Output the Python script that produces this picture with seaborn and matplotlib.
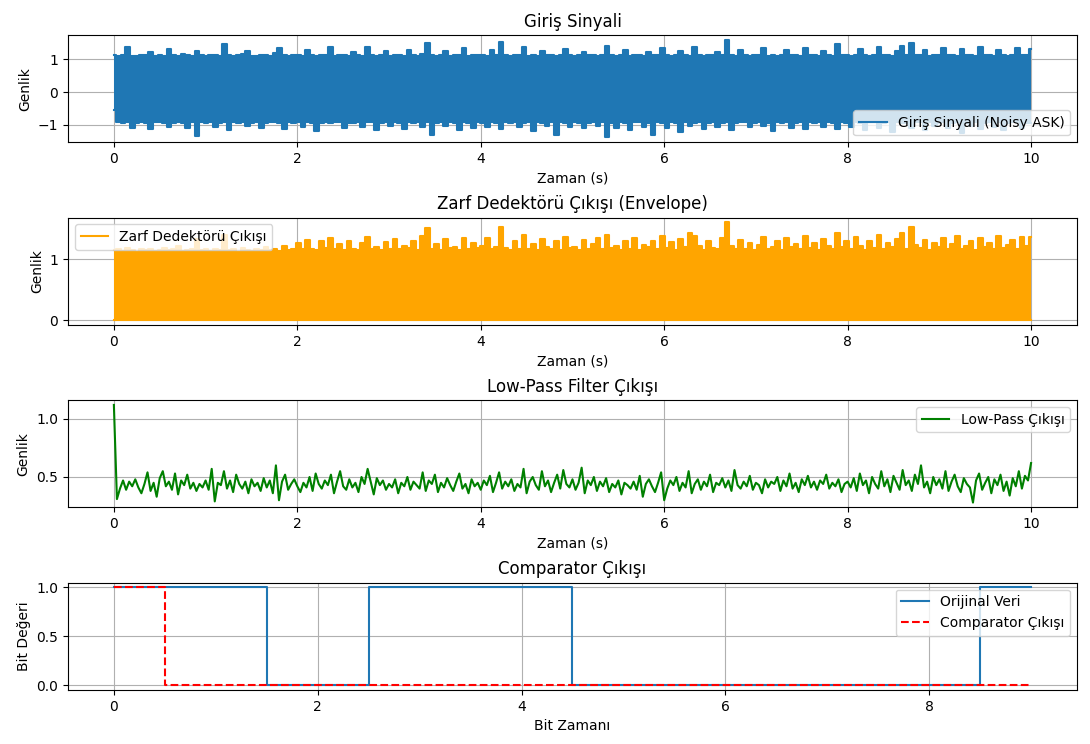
import numpy as np
import matplotlib
matplotlib.use("Agg")
import matplotlib.pyplot as plt
import seaborn as sns

# === Values ===
# noisy ASK input: upper / lower edge of the band (200 samples over 0..10 s)
sig_top = [
    1.13, 1.10, 1.12, 1.38, 1.11, 1.09, 1.14, 1.12, 1.22, 1.10, 1.13, 1.11, 1.30, 1.12, 1.09, 1.15, 1.12, 1.11, 1.26, 1.13,
    1.10, 1.14, 1.12, 1.11, 1.45, 1.13, 1.10, 1.12, 1.15, 1.24, 1.11, 1.09, 1.13, 1.12, 1.10, 1.20, 1.35, 1.12, 1.11, 1.14,
    1.12, 1.10, 1.27, 1.13, 1.11, 1.14, 1.12, 1.38, 1.10, 1.13, 1.12, 1.09, 1.22, 1.14, 1.11, 1.36, 1.12, 1.10, 1.13, 1.25,
    1.11, 1.14, 1.12, 1.10, 1.29, 1.13, 1.11, 1.15, 1.50, 1.12, 1.10, 1.13, 1.24, 1.11, 1.14, 1.12, 1.33, 1.10, 1.13, 1.12,
    1.14, 1.11, 1.27, 1.12, 1.53, 1.13, 1.10, 1.14, 1.12, 1.36, 1.11, 1.13, 1.10, 1.25, 1.12, 1.14, 1.11, 1.13, 1.32, 1.12,
    1.10, 1.13, 1.21, 1.12, 1.14, 1.11, 1.13, 1.40, 1.12, 1.10, 1.14, 1.28, 1.11, 1.13, 1.12, 1.10, 1.23, 1.14, 1.12, 1.34,
    1.13, 1.11, 1.14, 1.26, 1.12, 1.10, 1.37, 1.13, 1.11, 1.14, 1.12, 1.22, 1.13, 1.59, 1.12, 1.10, 1.29, 1.13, 1.11, 1.14,
    1.12, 1.33, 1.11, 1.13, 1.10, 1.14, 1.27, 1.12, 1.13, 1.11, 1.35, 1.12, 1.14, 1.10, 1.24, 1.13, 1.11, 1.45, 1.12, 1.14,
    1.11, 1.13, 1.31, 1.12, 1.10, 1.14, 1.38, 1.12, 1.13, 1.11, 1.26, 1.40, 1.13, 1.50, 1.12, 1.14, 1.28, 1.11, 1.13, 1.12,
    1.33, 1.12, 1.14, 1.11, 1.30, 1.13, 1.12, 1.10, 1.36, 1.14, 1.12, 1.11, 1.27, 1.13, 1.10, 1.14, 1.34, 1.12, 1.13, 1.30,
]
sig_bot = [
    -0.55, -0.92, -0.95, -0.90, -1.08, -0.93, -0.91, -0.94, -1.12, -0.92, -0.90, -0.95, -1.05, -0.93, -0.91, -0.94, -1.10, -0.92, -1.33, -0.90,
    -0.94, -0.91, -1.06, -0.93, -0.92, -1.15, -0.90, -0.95, -0.92, -1.04, -0.93, -0.91, -1.09, -0.94, -0.92, -0.90, -0.95, -1.13, -0.91, -0.93,
    -0.92, -1.05, -0.90, -0.94, -1.18, -0.93, -0.91, -0.95, -0.92, -0.90, -1.10, -0.93, -0.94, -0.91, -1.07, -0.92, -0.90, -1.14, -0.94, -0.92,
    -1.02, -0.91, -0.93, -1.11, -0.90, -0.94, -0.92, -1.06, -0.91, -1.30, -0.93, -0.90, -1.04, -0.92, -0.94, -1.16, -0.91, -0.93, -1.08, -0.92,
    -0.93, -1.05, -0.90, -0.94, -1.12, -0.91, -0.93, -0.90, -1.07, -0.94, -0.92, -1.17, -0.91, -0.93, -1.03, -0.92, -1.30, -0.90, -0.94, -1.06,
    -0.91, -0.93, -1.10, -0.94, -0.90, -1.04, -0.92, -1.38, -0.93, -1.08, -0.90, -0.94, -1.14, -0.92, -0.91, -1.06, -0.93, -1.30, -0.91, -0.94,
    -1.09, -0.92, -0.94, -1.20, -0.91, -1.02, -0.93, -0.90, -1.11, -0.94, -0.92, -1.05, -0.93, -0.90, -1.15, -0.94, -0.92, -0.91, -1.07, -0.93,
    -0.91, -1.04, -0.93, -1.19, -0.92, -0.94, -0.90, -1.09, -0.93, -0.92, -1.13, -0.91, -0.94, -0.92, -1.06, -0.90, -0.93, -1.11, -0.92, -0.94,
    -1.05, -0.91, -0.93, -1.16, -0.92, -0.90, -1.08, -0.94, -0.92, -1.21, -0.91, -0.93, -0.94, -1.10, -0.92, -0.91, -1.14, -0.90, -1.04, -0.93,
    -0.92, -1.09, -0.94, -0.91, -1.24, -0.93, -1.03, -0.91, -1.12, -0.94, -0.92, -1.07, -0.90, -1.15, -0.93, -0.92, -0.91, -1.10, -0.94, -0.93,
]
# envelope detector output: top edge of the band (bottom sits on 0)
env_top = [
    1.14, 1.16, 1.13, 1.18, 1.15, 1.12, 1.16, 1.14, 1.17, 1.13, 1.15, 1.18, 1.14, 1.16, 1.22, 1.13, 1.15, 1.17, 1.33, 1.14,
    1.16, 1.13, 1.17, 1.15, 1.40, 1.14, 1.16, 1.12, 1.18, 1.15, 1.13, 1.17, 1.14, 1.20, 1.15, 1.16, 1.13, 1.21, 1.14, 1.17,
    1.26, 1.16, 1.31, 1.17, 1.15, 1.29, 1.18, 1.34, 1.16, 1.24, 1.14, 1.30, 1.17, 1.15, 1.27, 1.36, 1.16, 1.19, 1.14, 1.28,
    1.17, 1.32, 1.16, 1.21, 1.18, 1.30, 1.15, 1.37, 1.50, 1.16, 1.24, 1.15, 1.33, 1.18, 1.20, 1.14, 1.35, 1.16, 1.27, 1.18,
    1.21, 1.34, 1.16, 1.19, 1.53, 1.18, 1.15, 1.30, 1.17, 1.39, 1.16, 1.24, 1.14, 1.33, 1.19, 1.16, 1.29, 1.15, 1.36, 1.18,
    1.20, 1.15, 1.31, 1.17, 1.25, 1.35, 1.16, 1.40, 1.18, 1.22, 1.14, 1.30, 1.17, 1.34, 1.15, 1.23, 1.19, 1.29, 1.16, 1.37,
    1.18, 1.28, 1.15, 1.33, 1.19, 1.42, 1.38, 1.22, 1.15, 1.30, 1.18, 1.16, 1.35, 1.60, 1.21, 1.16, 1.31, 1.17, 1.26, 1.15,
    1.23, 1.36, 1.16, 1.20, 1.30, 1.15, 1.34, 1.19, 1.24, 1.16, 1.37, 1.18, 1.27, 1.14, 1.32, 1.21, 1.17, 1.42, 1.19, 1.29,
    1.16, 1.36, 1.22, 1.15, 1.30, 1.18, 1.39, 1.17, 1.26, 1.20, 1.33, 1.42, 1.16, 1.52, 1.23, 1.18, 1.31, 1.15, 1.27, 1.19,
    1.35, 1.16, 1.25, 1.38, 1.17, 1.22, 1.30, 1.15, 1.34, 1.20, 1.26, 1.16, 1.37, 1.18, 1.23, 1.31, 1.17, 1.36, 1.21, 1.36,
]
env_bot = [0.0] * len(env_top)

# low-pass filter output (301 samples over 0..10 s)
lowpass = [
    1.12, 0.31, 0.40, 0.47, 0.39, 0.46, 0.42, 0.48, 0.41, 0.36,
    0.44, 0.54, 0.38, 0.45, 0.33, 0.49, 0.55, 0.42, 0.46, 0.39,
    0.53, 0.35, 0.47, 0.43, 0.52, 0.40, 0.45, 0.38, 0.44, 0.41,
    0.47, 0.39, 0.57, 0.29, 0.45, 0.43, 0.55, 0.40, 0.47, 0.37,
    0.52, 0.44, 0.40, 0.46, 0.36, 0.48, 0.42, 0.45, 0.38, 0.49,
    0.41, 0.47, 0.36, 0.60, 0.30, 0.46, 0.52, 0.39, 0.44, 0.48,
    0.42, 0.37, 0.45, 0.41, 0.50, 0.38, 0.53, 0.44, 0.40, 0.47,
    0.43, 0.52, 0.36, 0.46, 0.55, 0.42, 0.39, 0.48, 0.41, 0.45,
    0.37, 0.50, 0.44, 0.57, 0.46, 0.35, 0.49, 0.43, 0.47, 0.39,
    0.44, 0.41, 0.48, 0.36, 0.45, 0.42, 0.50, 0.39, 0.46, 0.43,
    0.40, 0.54, 0.38, 0.47, 0.44, 0.52, 0.37, 0.45, 0.41, 0.49,
    0.43, 0.38, 0.46, 0.53, 0.40, 0.44, 0.36, 0.48, 0.42, 0.45,
    0.39, 0.47, 0.43, 0.51, 0.37, 0.45, 0.54, 0.40, 0.46, 0.42,
    0.48, 0.38, 0.44, 0.41, 0.57, 0.36, 0.46, 0.50, 0.43, 0.39,
    0.55, 0.42, 0.47, 0.37, 0.45, 0.52, 0.40, 0.56, 0.44, 0.41,
    0.48, 0.39, 0.45, 0.58, 0.36, 0.47, 0.43, 0.50, 0.38, 0.46,
    0.42, 0.49, 0.37, 0.44, 0.41, 0.47, 0.35, 0.45, 0.43, 0.40,
    0.46, 0.39, 0.51, 0.33, 0.44, 0.48, 0.42, 0.37, 0.45, 0.54,
    0.30, 0.40, 0.47, 0.43, 0.50, 0.38, 0.45, 0.41, 0.55, 0.36,
    0.44, 0.48, 0.39, 0.46, 0.42, 0.52, 0.37, 0.45, 0.43, 0.49,
    0.41, 0.47, 0.38, 0.56, 0.43, 0.40, 0.46, 0.42, 0.51, 0.39,
    0.45, 0.43, 0.36, 0.48, 0.41, 0.46, 0.44, 0.50, 0.38, 0.47,
    0.42, 0.53, 0.40, 0.45, 0.37, 0.48, 0.43, 0.51, 0.41, 0.46,
    0.39, 0.47, 0.44, 0.52, 0.40, 0.45, 0.42, 0.48, 0.37, 0.44,
    0.46, 0.41, 0.49, 0.38, 0.53, 0.43, 0.47, 0.36, 0.50, 0.44,
    0.40, 0.55, 0.42, 0.48, 0.37, 0.51, 0.45, 0.39, 0.56, 0.43,
    0.47, 0.38, 0.52, 0.44, 0.60, 0.41, 0.46, 0.36, 0.50, 0.43,
    0.48, 0.40, 0.55, 0.38, 0.46, 0.52, 0.42, 0.37, 0.49, 0.44,
    0.41, 0.28, 0.47, 0.53, 0.39, 0.45, 0.50, 0.36, 0.48, 0.43,
    0.52, 0.38, 0.46, 0.34, 0.49, 0.42, 0.55, 0.40, 0.51, 0.47,
    0.62,
]

# bits
bit_times = [0, 1, 2, 3, 4, 5, 6, 7, 8, 9]
orijinal_bits = [1, 1, 0, 1, 1, 0, 0, 0, 0, 1]
comparator_bits = [1, 0, 0, 0, 0, 0, 0, 0, 0, 0]

T_END = 10


def band_plot(ax, top, bot, color, label):
    # dense signal drawn as its upper/lower edge with the body filled in
    t = np.linspace(0, T_END, len(top))
    ax.fill_between(t, bot, top, step="mid", color=color, linewidth=0, zorder=2)
    sns.lineplot(x=t, y=top, ax=ax, color=color, label=label,
                 drawstyle="steps-mid", estimator=None)
    sns.lineplot(x=t, y=bot, ax=ax, color=color,
                 drawstyle="steps-mid", estimator=None)


fig, axs = plt.subplots(4, 1, figsize=(10.9, 7.44), dpi=100)
fig.subplots_adjust(left=0.0624, right=0.988, top=0.953, bottom=0.0726, hspace=0.70)

# 1 - input
band_plot(axs[0], sig_top, sig_bot, "#1f77b4", "Giriş Sinyali (Noisy ASK)")
axs[0].set_title("Giriş Sinyali")
axs[0].set_xlabel("Zaman (s)")
axs[0].set_ylabel("Genlik")
axs[0].legend(loc="lower right")

# 2 - envelope
band_plot(axs[1], env_top, env_bot, "orange", "Zarf Dedektörü Çıkışı")
axs[1].set_title("Zarf Dedektörü Çıkışı (Envelope)")
axs[1].set_xlabel("Zaman (s)")
axs[1].set_ylabel("Genlik")
axs[1].legend(loc="upper left")

# 3 - low-pass
t_lp = np.linspace(0, T_END, len(lowpass))
sns.lineplot(x=t_lp, y=lowpass, ax=axs[2], color="green", label="Low-Pass Çıkışı")
axs[2].set_title("Low-Pass Filter Çıkışı")
axs[2].set_xlabel("Zaman (s)")
axs[2].set_ylabel("Genlik")
axs[2].legend(loc="upper right")

# 4 - comparator
sns.lineplot(x=bit_times, y=orijinal_bits, ax=axs[3], color="#1f77b4",
             drawstyle="steps-mid", label="Orijinal Veri")
sns.lineplot(x=bit_times, y=comparator_bits, ax=axs[3], color="red",
             linestyle="--", drawstyle="steps-mid", label="Comparator Çıkışı")
axs[3].set_title("Comparator Çıkışı")
axs[3].set_xlabel("Bit Zamanı")
axs[3].set_ylabel("Bit Değeri")
axs[3].legend(loc="upper right")

for ax in axs:
    ax.grid(True)

plt.savefig("out.png", dpi=100)
plt.close()
